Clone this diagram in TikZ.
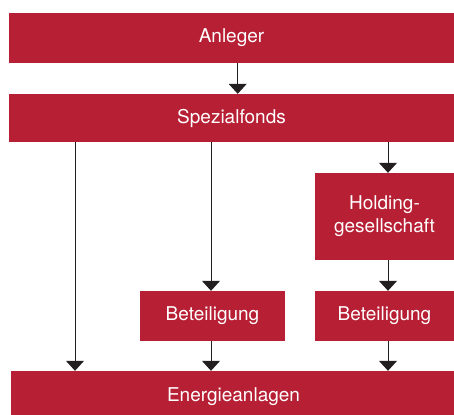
\documentclass[tikz,border=0pt]{standalone}
\usepackage{fontspec}
\setmainfont{TeX Gyre Heros}
\usetikzlibrary{arrows.meta}
\definecolor{boxred}{RGB}{183,31,52}
\definecolor{arrgray}{RGB}{35,31,32}
\tikzset{
  box/.style={fill=boxred, draw=none, text=white, inner sep=0pt, align=center,
    font=\fontsize{19}{23}\selectfont},
  arr/.style={draw=arrgray, line width=1pt, -{Triangle[width=18pt,length=10pt]}}
}
\begin{document}
\begin{tikzpicture}[x=1pt,y=-1pt]
\useasboundingbox (0,0) rectangle (454,414);
\node[box, minimum width=445pt, minimum height=50pt] (anleger) at (231.5,38) {Anleger};
\node[box, minimum width=445pt, minimum height=48pt] (spez) at (231.5,118) {Spezialfonds};
\node[box, minimum width=139pt, minimum height=87pt] (holding) at (384.5,216.5) {Holding-\\gesellschaft};
\node[box, minimum width=145pt, minimum height=50pt] (betl) at (212.5,316) {Beteiligung};
\node[box, minimum width=139pt, minimum height=50pt] (betr) at (384.5,316) {Beteiligung};
\node[box, minimum width=445pt, minimum height=52pt] (energie) at (233.5,397) {Energieanlagen};
\coordinate (c0) at (237.7,0);
\coordinate (c1) at (75,0);
\coordinate (c2) at (211,0);
\coordinate (c3) at (388,0);
\draw[arr] (anleger.south -| c0) -- (spez.north -| c0);
\draw[arr] (spez.south -| c1) -- (energie.north -| c1);
\draw[arr] (spez.south -| c2) -- (betl.north -| c2);
\draw[arr] (spez.south -| c3) -- (holding.north -| c3);
\draw[arr] (holding.south -| c3) -- (betr.north -| c3);
\draw[arr] (betl.south -| c2) -- (energie.north -| c2);
\draw[arr] (betr.south -| c3) -- (energie.north -| c3);
\end{tikzpicture}
\end{document}
